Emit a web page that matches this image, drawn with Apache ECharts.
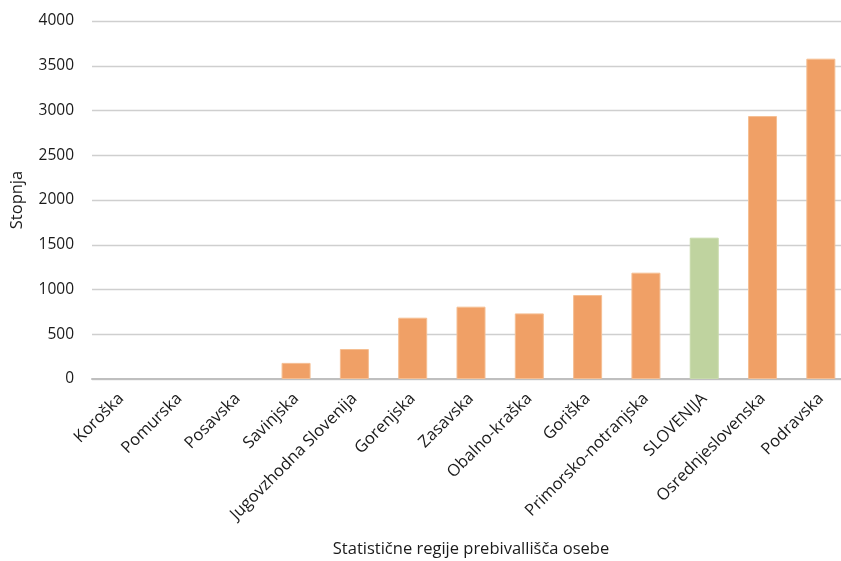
<!DOCTYPE html>
<html>
<head>
<meta charset="utf-8">
<script src="https://cdn.jsdelivr.net/npm/echarts@6/dist/echarts.min.js"></script>
<style>
html,body{margin:0;padding:0;background:#fff;}
#chart{width:841px;height:561px;}
</style>
</head>
<body>
<div id="chart"></div>
<script>
var categories = ['Koroška','Pomurska','Posavska','Savinjska','Jugovzhodna Slovenija','Gorenjska','Zasavska','Obalno-kraška','Goriška','Primorsko-notranjska','SLOVENIJA','Osrednjeslovenska','Podravska'];
var values = [0, 0, 0, 180, 335, 685, 808, 733, 938, 1188, 1579, 2938, 3579];
var highlightCategory = 'SLOVENIJA';
var yTicks = {min: 0, max: 4000, interval: 500};
var xAxisTitle = 'Statistične regije prebivallišča osebe';
var yAxisTitle = 'Stopnja';

var chart = echarts.init(document.getElementById('chart'), null, {renderer: 'canvas'});
var font = '"Open Sans", "Noto Sans", sans-serif';
var option = {
  animation: false,
  backgroundColor: '#ffffff',
  grid: {left: 92, top: 21, bottom: 182, width: 758, containLabel: false, outerBoundsMode: 'none'},
  xAxis: {
    type: 'category',
    data: categories,
    name: xAxisTitle,
    nameLocation: 'middle',
    nameGap: 162,
    nameTextStyle: {fontFamily: font, fontSize: 16.5, color: '#1a1a1a'},
    axisLine: {lineStyle: {color: '#bfbfbf', width: 2}},
    axisTick: {show: false},
    axisLabel: {rotate: 45, interval: 0, margin: 17, fontFamily: font, fontSize: 16.5, color: '#1a1a1a'}
  },
  yAxis: {
    type: 'value',
    min: yTicks.min, max: yTicks.max, interval: yTicks.interval,
    name: yAxisTitle,
    nameLocation: 'middle',
    nameGap: 66,
    nameTextStyle: {fontFamily: font, fontSize: 16.5, color: '#1a1a1a'},
    axisLine: {show: false},
    axisTick: {show: false},
    axisLabel: {margin: 18, fontFamily: font, fontSize: 15.5, color: '#1a1a1a',
      formatter: function (v) { return String(v); }},
    splitLine: {lineStyle: {color: '#cfcfcf', width: 1.3}}
  },
  series: [{
    type: 'bar',
    barWidth: 29,
    data: values.map(function (v, i) {
      var hl = categories[i] === highlightCategory;
      return {
        value: v,
        itemStyle: {
          color: hl ? '#BFD39F' : '#F0A066',
          borderColor: hl ? '#C8DAAB' : '#F5BE92',
          borderWidth: v > 0 ? 1 : 0
        }
      };
    })
  }]
};
chart.setOption(option);
</script>
</body>
</html>
